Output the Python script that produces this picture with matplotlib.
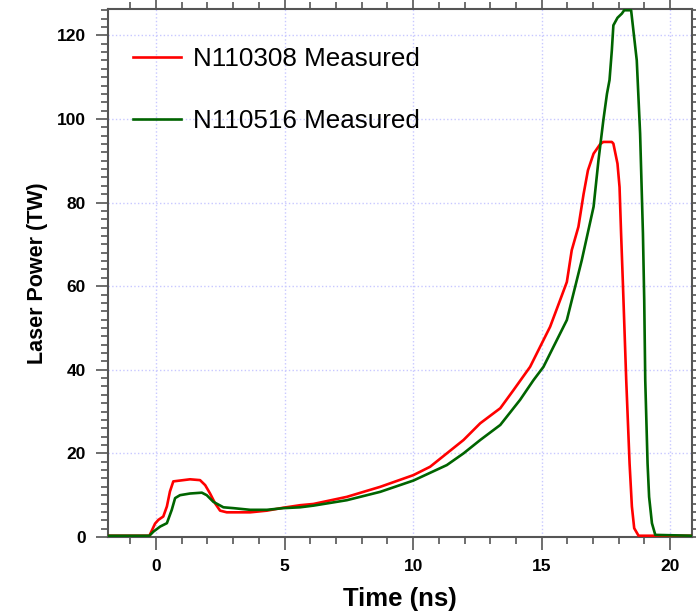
import numpy as np
import matplotlib
matplotlib.use("Agg")
import matplotlib.pyplot as plt
from matplotlib.ticker import MultipleLocator

plt.rcParams['font.family'] = ['Liberation Sans', 'DejaVu Sans']

# N110308 measured pulse (time in ns, power in TW)
t_red = [-1.87, -0.26, -0.04, 0.09, 0.28, 0.42, 0.54, 0.67, 1.06, 1.32, 1.71, 1.91,
         2.10, 2.30, 2.49, 2.75, 3.66, 4.31, 4.95, 5.6, 6.12, 7.42, 8.72, 10.01,
         10.66, 11.31, 11.96, 12.61, 13.39, 13.9, 14.55, 14.94, 15.33, 15.72, 15.98,
         16.17, 16.43, 16.63, 16.80, 17.02, 17.28, 17.40, 17.73, 17.79, 17.95, 18.03,
         18.09, 18.16, 18.29, 18.42, 18.51, 18.60, 18.77, 20.85]
p_red = [0.3, 0.3, 3.2, 4.1, 4.9, 7.3, 10.9, 13.3, 13.6, 13.8, 13.6, 12.4,
         10.4, 8.0, 6.3, 5.9, 5.9, 6.3, 7.0, 7.6, 7.9, 9.6, 12.0, 14.8,
         16.8, 20.0, 23.2, 27.2, 30.8, 35.1, 40.7, 45.5, 50.3, 56.7, 61.0,
         68.6, 74.2, 82.0, 87.7, 91.7, 94.0, 94.5, 94.5, 94.1, 89.3, 83.7,
         72.6, 60.7, 37.5, 17.6, 7.3, 2.1, 0.3, 0.3]

# N110516 measured pulse
t_green = [-1.87, -0.26, -0.1, 0.16, 0.42, 0.61, 0.74, 0.93, 1.32, 1.78, 1.97, 2.23,
           2.62, 3.01, 3.66, 4.31, 4.95, 5.6, 6.12, 7.42, 8.72, 10.01, 11.31, 11.96,
           12.61, 13.39, 14.16, 14.68, 15.07, 15.59, 15.98, 16.24, 16.56, 17.02, 17.21,
           17.40, 17.54, 17.64, 17.73, 17.79, 17.95, 18.12, 18.21, 18.48, 18.70, 18.83,
           18.94, 18.99, 19.03, 19.12, 19.18, 19.29, 19.42, 20.85]
p_green = [0.3, 0.3, 1.3, 2.5, 3.3, 6.5, 9.3, 10.0, 10.4, 10.6, 10.0, 8.4,
           7.1, 6.9, 6.5, 6.5, 6.9, 7.1, 7.5, 8.8, 10.8, 13.5, 17.2, 20.0,
           23.2, 26.8, 32.8, 37.5, 40.7, 47.1, 51.9, 58.3, 66.2, 79.0, 90.1,
           99.7, 106.0, 109.3, 116.4, 122.4, 124.2, 125.2, 126.0, 126.0, 114.0, 96.5,
           72.6, 56.7, 37.5, 17.6, 9.6, 3.3, 0.5, 0.3]

fig = plt.figure(figsize=(6.96, 6.13), dpi=100)
ax = fig.add_axes([0.1552, 0.124, 0.8391, 0.862])

ax.plot(t_red, p_red, color='#ff0000', lw=1.9, label='N110308 Measured', zorder=3)
ax.plot(t_green, p_green, color='#006400', lw=1.9, label='N110516 Measured', zorder=3)

ax.set_xlim(-1.87, 20.85)
ax.set_ylim(0, 126.4)
ax.xaxis.set_major_locator(MultipleLocator(5))
ax.xaxis.set_minor_locator(MultipleLocator(1))
ax.yaxis.set_major_locator(MultipleLocator(20))
ax.yaxis.set_minor_locator(MultipleLocator(2))

ax.grid(True, which='major', color='#c8c8ff', linestyle=':', lw=1.0, zorder=0)

for s in ax.spines.values():
    s.set_color('#555555')
    s.set_linewidth(1.5)

ax.tick_params(which='both', direction='out', top=True, right=True,
               color='#555555', width=1.2)
ax.tick_params(which='major', length=9, labelsize=12.5, pad=7)
ax.tick_params(which='minor', length=5)
for lab in ax.get_xticklabels() + ax.get_yticklabels():
    lab.set_fontweight('bold')

ax.set_xlabel('Time (ns)', fontsize=18.5, fontweight='bold', labelpad=9)
ax.set_ylabel('Laser Power (TW)', fontsize=15.5, fontweight='bold', labelpad=6)

ax.legend(loc='upper left', bbox_to_anchor=(0.043, 0.927), frameon=False,
          fontsize=18.7, handlelength=1.85, handletextpad=0.45, labelspacing=1.45,
          borderpad=0, borderaxespad=0)

fig.savefig('out.png', dpi=100)
